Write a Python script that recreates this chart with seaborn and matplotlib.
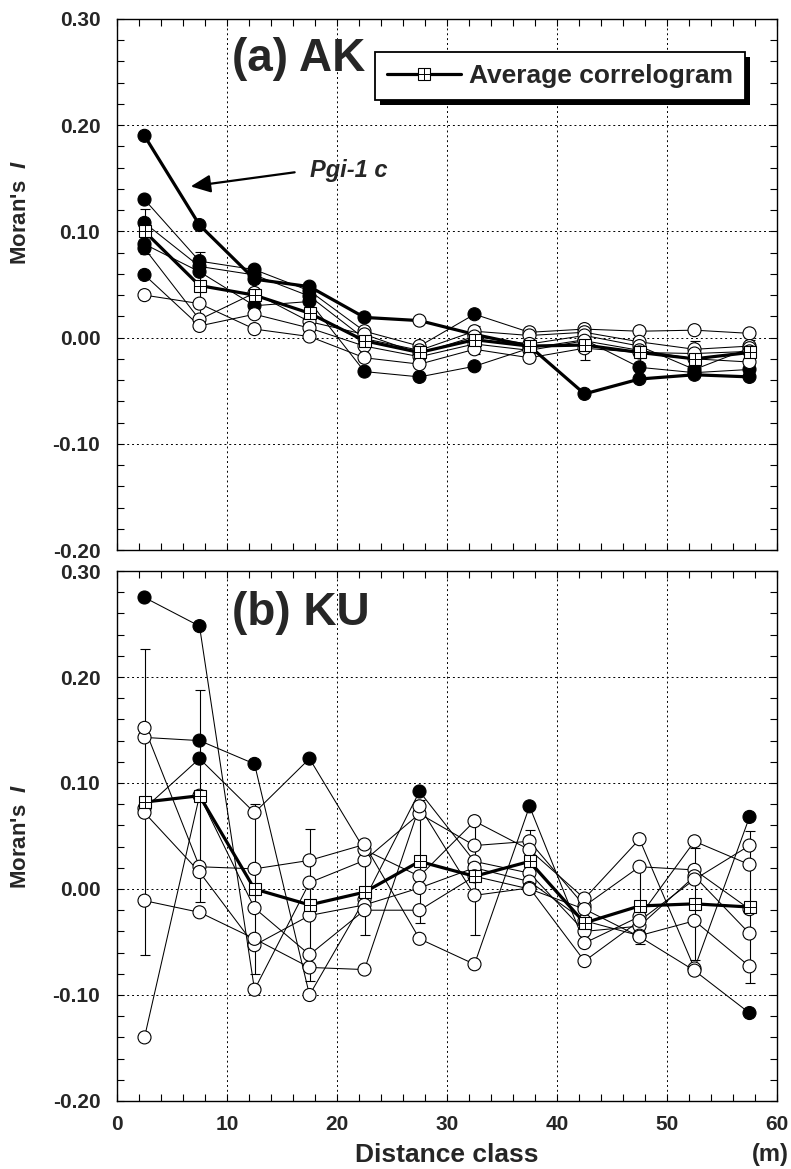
import numpy as np
import pandas as pd
import matplotlib
matplotlib.use("Agg")
import matplotlib.pyplot as plt
import seaborn as sns
from matplotlib.lines import Line2D
from matplotlib.patches import Rectangle
from matplotlib.transforms import IdentityTransform
from matplotlib.ticker import MultipleLocator, FormatStrFormatter

# ---------------- data ----------------
distance_class = [2.5, 7.5, 12.5, 17.5, 22.5, 27.5, 32.5, 37.5, 42.5, 47.5, 52.5, 57.5]

# (a) AK - individual loci (1 = significant / filled symbol)
ak_pgi1c = [0.190, 0.106, 0.055, 0.048, 0.019, 0.016, 0.003, -0.008, -0.053, -0.039, -0.035, -0.037]
ak_pgi1c_sig = [1, 1, 1, 1, 1, 0, 0, 0, 1, 1, 1, 1]
ak_locus2 = [0.130, 0.072, 0.064, 0.044, 0.006, -0.008, 0.022, 0.005, 0.008, 0.006, 0.007, 0.004]
ak_locus2_sig = [1, 1, 1, 1, 0, 0, 1, 0, 0, 0, 0, 0]
ak_locus3 = [0.108, 0.067, 0.059, 0.039, -0.001, -0.012, 0.006, 0.002, 0.005, -0.004, -0.011, -0.008]
ak_locus3_sig = [1, 1, 1, 1, 0, 0, 0, 0, 0, 0, 0, 0]
ak_locus4 = [0.088, 0.062, 0.030, 0.034, -0.032, -0.037, -0.027, -0.010, -0.002, -0.028, -0.033, -0.030]
ak_locus4_sig = [1, 1, 1, 1, 1, 1, 1, 0, 0, 1, 1, 1]
ak_locus5 = [0.084, 0.017, 0.042, 0.015, 0.003, -0.015, 0.001, -0.006, 0.002, -0.008, -0.030, -0.010]
ak_locus5_sig = [1, 0, 0, 0, 0, 0, 0, 0, 0, 0, 1, 0]
ak_locus6 = [0.059, 0.011, 0.022, 0.009, -0.008, -0.018, -0.006, -0.012, -0.003, -0.012, -0.020, -0.023]
ak_locus6_sig = [1, 0, 0, 0, 0, 0, 0, 0, 0, 0, 0, 0]
ak_locus7 = [0.040, 0.032, 0.008, 0.001, -0.019, -0.025, -0.011, -0.019, -0.010, -0.014, -0.015, -0.013]
ak_locus7_sig = [0, 0, 0, 0, 0, 0, 0, 0, 0, 0, 0, 0]
ak_mean = [0.100, 0.049, 0.040, 0.023, -0.003, -0.014, -0.002, -0.008, -0.007, -0.014, -0.020, -0.014]
ak_err = [0.021, 0.032, 0.015, 0.015, 0.012, 0.008, 0.013, 0.010, 0.014, 0.010, 0.017, 0.012]

# (b) KU - individual loci
ku_locus1 = [0.275, 0.248, -0.095, 0.006, 0.027, 0.071, 0.041, 0.045, -0.016, 0.021, 0.018, -0.019]
ku_locus1_sig = [1, 1, 0, 0, 0, 0, 0, 0, 0, 0, 0, 0]
ku_locus2 = [0.143, 0.140, 0.118, -0.100, -0.010, 0.092, 0.026, 0.015, -0.040, -0.035, 0.012, -0.042]
ku_locus2_sig = [0, 1, 1, 0, 0, 1, 0, 0, 0, 0, 0, 0]
ku_locus3 = [0.076, 0.123, 0.072, 0.123, 0.037, 0.012, 0.064, 0.037, -0.009, 0.047, -0.075, 0.068]
ku_locus3_sig = [0, 1, 0, 1, 0, 0, 0, 0, 0, 0, 0, 1]
ku_locus4 = [0.152, 0.021, 0.019, 0.027, 0.042, -0.047, -0.071, 0.078, -0.051, -0.026, 0.045, 0.023]
ku_locus4_sig = [0, 0, 0, 0, 0, 0, 0, 1, 0, 0, 0, 0]
ku_locus5 = [0.072, 0.016, -0.053, -0.025, -0.015, 0.001, 0.020, 0.007, -0.030, -0.044, -0.030, -0.073]
ku_locus5_sig = [0, 0, 0, 0, 0, 0, 0, 0, 0, 0, 0, 0]
ku_locus6 = [-0.011, -0.022, -0.047, -0.074, -0.076, 0.078, -0.006, 0.001, -0.068, -0.030, 0.009, 0.041]
ku_locus6_sig = [0, 0, 0, 0, 0, 0, 0, 0, 0, 0, 0, 0]
ku_locus7 = [-0.140, 0.088, -0.018, -0.062, -0.020, -0.020, 0.012, 0.000, -0.019, -0.045, -0.077, -0.117]
ku_locus7_sig = [0, 0, 0, 0, 0, 0, 0, 0, 0, 0, 0, 1]
ku_mean = [0.082, 0.088, 0.000, -0.015, -0.003, 0.026, 0.012, 0.026, -0.032, -0.016, -0.014, -0.017]
ku_err = [0.144, 0.100, 0.080, 0.072, 0.040, 0.058, 0.055, 0.030, 0.015, 0.036, 0.053, 0.072]

y_ticks = [-0.20, -0.10, 0.00, 0.10, 0.20, 0.30]
x_ticks = [0, 10, 20, 30, 40, 50, 60]

# ---------------- style ----------------
sns.set_theme(style="ticks")
plt.rcParams['font.family'] = ['Liberation Sans', 'DejaVu Sans']
plt.rcParams['font.weight'] = 'bold'
plt.rcParams['axes.unicode_minus'] = False
plt.rcParams['mathtext.fontset'] = 'custom'
plt.rcParams['mathtext.it'] = 'Liberation Sans:italic:bold'
plt.rcParams['mathtext.rm'] = 'Liberation Sans:bold'
plt.rcParams['mathtext.bf'] = 'Liberation Sans:bold'


def long_frame(series, sigs):
    rows = []
    for i, (vals, sg) in enumerate(zip(series, sigs)):
        for x, v, s in zip(distance_class, vals, sg):
            rows.append(dict(locus=f"L{i}", distance=x, moran=v, sig=bool(s)))
    return pd.DataFrame(rows)


ak_df = long_frame([ak_pgi1c, ak_locus2, ak_locus3, ak_locus4, ak_locus5, ak_locus6, ak_locus7],
                   [ak_pgi1c_sig, ak_locus2_sig, ak_locus3_sig, ak_locus4_sig, ak_locus5_sig,
                    ak_locus6_sig, ak_locus7_sig])
ku_df = long_frame([ku_locus1, ku_locus2, ku_locus3, ku_locus4, ku_locus5, ku_locus6, ku_locus7],
                   [ku_locus1_sig, ku_locus2_sig, ku_locus3_sig, ku_locus4_sig, ku_locus5_sig,
                    ku_locus6_sig, ku_locus7_sig])

W, H = 791, 1169
fig = plt.figure(figsize=(W / 100, H / 100), dpi=100)
fig.patch.set_facecolor('white')
ax1 = fig.add_axes([117 / W, 1 - 550 / H, 660 / W, 531 / H])
ax2 = fig.add_axes([117 / W, 1 - 1101 / H, 660 / W, 530 / H])

THIN = 0.75
THICK = 2.3
MS_CIRCLE = 88


def draw_panel(ax, df, thick_locus, mean, err):
    thin = df[df.locus != thick_locus]
    sns.lineplot(data=thin, x='distance', y='moran', units='locus', estimator=None,
                 color='black', lw=THIN, ax=ax, zorder=2, legend=False, sort=False)
    if thick_locus is not None:
        sns.lineplot(data=df[df.locus == thick_locus], x='distance', y='moran',
                     estimator=None, color='black', lw=THICK, ax=ax, zorder=2.2,
                     legend=False, sort=False)
    sns.scatterplot(data=df, x='distance', y='moran', hue='sig',
                    palette={True: 'black', False: 'white'}, edgecolor='black',
                    linewidth=0.8, s=MS_CIRCLE, ax=ax, zorder=3, legend=False)
    mdf = pd.DataFrame({'distance': distance_class, 'moran': mean})
    ax.errorbar(distance_class, mean, yerr=err, fmt='none', ecolor='black',
                elinewidth=0.8, capsize=3.5, capthick=0.8, zorder=2.5)
    sns.lineplot(data=mdf, x='distance', y='moran', color='black', lw=THICK, ax=ax,
                 zorder=4, marker='s', markersize=8, markerfacecolor='white',
                 markeredgecolor='black', markeredgewidth=0.8, legend=False)
    sns.scatterplot(data=mdf, x='distance', y='moran', marker='+', s=64,
                    color='black', linewidth=0.7, ax=ax, zorder=5, legend=False)


draw_panel(ax1, ak_df, 'L0', ak_mean, ak_err)
draw_panel(ax2, ku_df, None, ku_mean, ku_err)

for ax in (ax1, ax2):
    ax.set_xlim(0, 60)
    ax.set_ylim(-0.2, 0.3)
    ax.set_xticks(x_ticks)
    ax.set_yticks(y_ticks)
    ax.xaxis.set_minor_locator(MultipleLocator(2))
    ax.yaxis.set_minor_locator(MultipleLocator(0.02))
    ax.yaxis.set_major_formatter(FormatStrFormatter('%.2f'))
    ax.tick_params(which='both', direction='in', top=True, right=True,
                   length=5, width=0.8, color='black')
    ax.tick_params(axis='y', labelsize=15, pad=12)
    ax.tick_params(axis='x', labelsize=15, pad=10)
    for lab in ax.get_xticklabels() + ax.get_yticklabels():
        lab.set_fontweight('bold')
    ax.grid(True, which='major', color='black', ls=(0, (2, 3)), lw=0.7)
    ax.set_axisbelow(True)
    ax.set_xlabel('')
    ax.set_ylabel('')
    for sp in ax.spines.values():
        sp.set_color('black')
        sp.set_linewidth(1.0)
    ax.set_facecolor('white')

ax1.tick_params(labelbottom=False)

# panel titles
ax1.text(10.5, 0.262, '(a) AK', fontsize=33, fontweight='bold', ha='left', va='center')
ax2.text(10.5, 0.260, '(b) KU', fontsize=33, fontweight='bold', ha='left', va='center')

# annotation for Pgi-1 c
ax1.annotate('', xy=(6.45, 0.142), xytext=(16.4, 0.156),
             arrowprops=dict(arrowstyle='-|>,head_length=1.0,head_width=0.45',
                             color='black', lw=1.6))
ax1.text(17.5, 0.151, 'Pgi-1 c', fontsize=17, fontweight='bold', fontstyle='italic',
         ha='left', va='baseline')

# legend
avg_line = Line2D([], [], color='black', lw=THICK, marker='s', markersize=8,
                  markerfacecolor='white', markeredgecolor='black', markeredgewidth=0.8)
avg_plus = Line2D([], [], ls='', marker='+', markersize=8, color='black', markeredgewidth=0.7)
leg = ax1.legend([(avg_line, avg_plus)], ['Average correlogram'],
                 loc='upper left', bbox_to_anchor=(0.391, 0.938), frameon=True,
                 fancybox=False, shadow=False, framealpha=1.0,
                 prop={'size': 19, 'weight': 'bold'}, handlelength=2.8,
                 handletextpad=0.3, borderpad=0.45, borderaxespad=0)
leg.get_frame().set_edgecolor('black')
leg.get_frame().set_linewidth(1.3)
leg.get_frame().set_facecolor('white')
leg.get_frame().set_alpha(1.0)
leg.set_zorder(10)

# axis labels
fig.text(21 / W, 1 - 212 / H, "Moran's  $I$", rotation=90, ha='center', va='center',
         fontsize=16, fontweight='bold')
fig.text(21 / W, 1 - 836 / H, "Moran's  $I$", rotation=90, ha='center', va='center',
         fontsize=16, fontweight='bold')
fig.text((117 + 330) / W, 1 - 1155 / H, 'Distance class', ha='center', va='center',
         fontsize=19, fontweight='bold')
fig.text(789 / W, 1 - 1155 / H, '(m)', ha='right', va='center',
         fontsize=17, fontweight='bold')

# heavy drop shadow behind the legend box
fig.canvas.draw()
bb = leg.get_frame().get_window_extent(fig.canvas.get_renderer())
shadow = Rectangle((bb.x0 + 5, bb.y0 - 5), bb.width, bb.height, transform=IdentityTransform(),
                   facecolor='black', edgecolor='none', zorder=9.5, clip_on=False)
ax1.add_artist(shadow)

fig.savefig('out.png', dpi=100, facecolor='white')
